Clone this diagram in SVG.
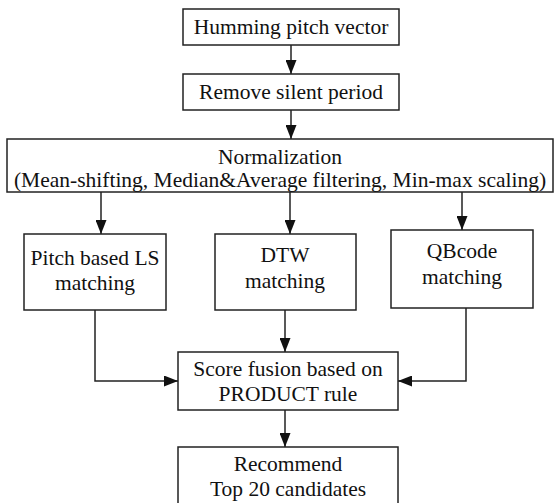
<svg xmlns="http://www.w3.org/2000/svg" width="555" height="503" viewBox="0 0 555 503">
<style>
.box{fill:#fff;stroke:#222;stroke-width:1.5}
.t{font-family:'Liberation Serif','Times New Roman','DejaVu Serif',serif;font-size:21.5px;fill:#111;text-anchor:middle}
.c{fill:none;stroke:#222;stroke-width:1.5}
</style>
<defs>
<marker id="ah" markerUnits="userSpaceOnUse" markerWidth="14" markerHeight="11" viewBox="0 0 14 11" refX="14" refY="5.5" orient="auto">
<path d="M0,0 L14,5.5 L0,11 z" fill="#111"/>
</marker>
</defs>
<rect width="555" height="503" fill="#fff"/>
<g id="connectors">
<path class="c" d="M291,45 V74" marker-end="url(#ah)"/>
<path class="c" d="M291,110 V139" marker-end="url(#ah)"/>
<path class="c" d="M101,192 V234" marker-end="url(#ah)"/>
<path class="c" d="M290,192 V234" marker-end="url(#ah)"/>
<path class="c" d="M462,192 V230" marker-end="url(#ah)"/>
<path class="c" d="M95,310 V381 H178" marker-end="url(#ah)"/>
<path class="c" d="M285,310 V352" marker-end="url(#ah)"/>
<path class="c" d="M466,308 V381 H398" marker-end="url(#ah)"/>
<path class="c" d="M285,410 V447" marker-end="url(#ah)"/>
</g>
<g id="humming">
<rect class="box" x="183" y="9" width="216" height="36"/>
<text class="t" x="291" y="34">Humming pitch vector</text>
</g>
<g id="remove">
<rect class="box" x="183" y="74" width="216" height="36"/>
<text class="t" x="291" y="99">Remove silent period</text>
</g>
<g id="normalization">
<rect class="box" x="7" y="139" width="546" height="53"/>
<text class="t" x="280" y="164">Normalization</text>
<text class="t" x="280" y="187">(Mean-shifting, Median&amp;Average filtering, Min-max scaling)</text>
</g>
<g id="pitch">
<rect class="box" x="24" y="234" width="142" height="76"/>
<text class="t" x="95" y="265">Pitch based LS</text>
<text class="t" x="95" y="290">matching</text>
</g>
<g id="dtw">
<rect class="box" x="215" y="234" width="141" height="76"/>
<text class="t" x="285" y="262">DTW</text>
<text class="t" x="285" y="288">matching</text>
</g>
<g id="qbcode">
<rect class="box" x="391" y="230" width="142" height="78"/>
<text class="t" x="462" y="258">QBcode</text>
<text class="t" x="462" y="284">matching</text>
</g>
<g id="fusion">
<rect class="box" x="178" y="352" width="220" height="58"/>
<text class="t" x="288" y="376">Score fusion based on</text>
<text class="t" x="288" y="401">PRODUCT rule</text>
</g>
<g id="recommend">
<rect class="box" x="178" y="447" width="220" height="64"/>
<text class="t" x="288" y="471">Recommend</text>
<text class="t" x="288" y="496">Top 20 candidates</text>
</g>
</svg>
